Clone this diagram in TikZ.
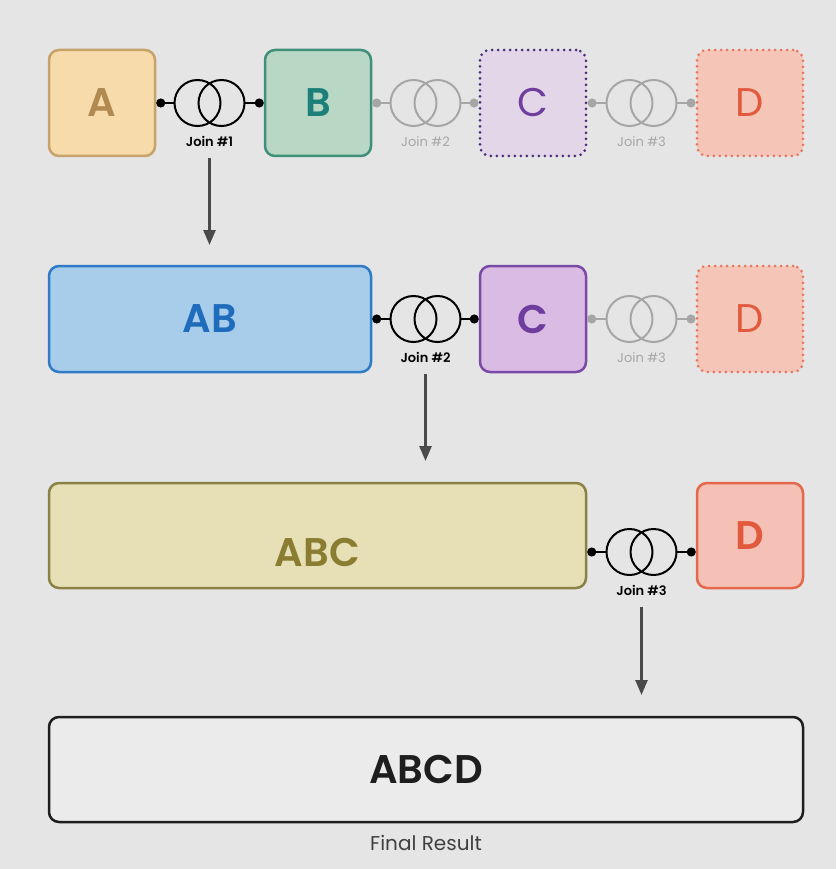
\documentclass[tikz,border=0pt]{standalone}
\usepackage{fontspec}
\setmainfont{Poppins}[BoldFont={Poppins SemiBold}]
\usetikzlibrary{positioning,arrows.meta}
\definecolor{bg}{HTML}{E5E5E5}
\definecolor{afill}{HTML}{F7DBAA}\definecolor{aline}{HTML}{C7A26A}\definecolor{atext}{HTML}{B08A50}
\definecolor{bfill}{HTML}{B8D8C5}\definecolor{bline}{HTML}{3F8F7A}\definecolor{btext}{HTML}{1C7F7A}
\definecolor{cfill}{HTML}{DABBE4}\definecolor{cline}{HTML}{7A4AA6}\definecolor{ctext}{HTML}{6E3D9E}
\definecolor{cghost}{HTML}{E3D6E8}\definecolor{cdots}{HTML}{4B2E78}
\definecolor{dfill}{HTML}{F5C1B6}\definecolor{dline}{HTML}{E5674B}\definecolor{dtext}{HTML}{E25A3D}
\definecolor{dghost}{HTML}{F5C6B8}\definecolor{ddots}{HTML}{E8765E}
\definecolor{abfill}{HTML}{A8CDEA}\definecolor{abline}{HTML}{2F7BC6}\definecolor{abtext}{HTML}{1F6CBC}
\definecolor{abcfill}{HTML}{E7E0B7}\definecolor{abcline}{HTML}{8A8244}\definecolor{abctext}{HTML}{8A7C30}
\definecolor{finalfill}{HTML}{EBEBEB}\definecolor{ink}{HTML}{1E1E1E}
\definecolor{faded}{HTML}{A6A6A6}\definecolor{arrowgray}{HTML}{4A4A4A}
\tikzset{
  box/.style={rounded corners=10pt, line width=2.5pt, minimum width=106pt, minimum height=106pt,
    inner sep=0pt, font=\fontsize{40}{48}\selectfont\bfseries},
  ghost/.style={box, line width=3pt, line cap=round, dash pattern=on 0pt off 6pt,
    font=\fontsize{40}{48}\selectfont},
  joinspot/.style={minimum width=70pt, minimum height=46pt, inner sep=0pt},
  link/.style={line width=2pt, -{Circle[length=9pt]}},
  joinlabel/.style={inner sep=0pt, font=\fontsize{13}{15}\selectfont\bfseries},
  flow/.style={line width=2.5pt, arrowgray, -{Triangle[width=12pt,length=15pt]}}
}
\newcommand{\joinring}[3]{%
  \node[joinspot] (#1) at (#2) {};
  \draw[#3, line width=2pt] ([xshift=-12pt]#1.center) circle[radius=23pt]
    ([xshift=12pt]#1.center) circle[radius=23pt];
}
\begin{document}
\begin{tikzpicture}[x=1pt,y=-1pt]
  \fill[bg] (0,0) rectangle (836,869);
  \useasboundingbox (0,0) rectangle (836,869);
  % first row
  \node[box, fill=afill, draw=aline, text=atext] (A) at (102,103) {A};
  \node[box, fill=bfill, draw=bline, text=btext] (B) at (318,103) {B};
  \node[ghost, fill=cghost, draw=cdots, text=ctext] (C0) at (533,103) {C};
  \node[ghost, fill=dghost, draw=ddots, text=dtext] (D0) at (750,103) {D};
  \joinring{j1}{209.5,103}{black}
  \draw[link] (j1.west) -- (A.east);
  \draw[link] (j1.east) -- (B.west);
  \node[joinlabel, below=10pt of j1] (j1l) {Join \#1};
  \joinring{j2a}{425.5,103}{faded}
  \draw[link, faded] (j2a.west) -- (B.east);
  \draw[link, faded] (j2a.east) -- (C0.west);
  \node[joinlabel, faded, font=\fontsize{13}{15}\selectfont, below=10pt of j2a] (j2al) {Join \#2};
  \joinring{j3a}{641.5,103}{faded}
  \draw[link, faded] (j3a.west) -- (C0.east);
  \draw[link, faded] (j3a.east) -- (D0.west);
  \node[joinlabel, faded, font=\fontsize{13}{15}\selectfont, below=10pt of j3a] (j3al) {Join \#3};
  \coordinate (a1) at (209.5,245);
  \draw[flow, shorten <=11pt] (j1l) -- (a1);
  % second row
  \node[box, minimum width=322pt, fill=abfill, draw=abline, text=abtext] (AB) at (210,319) {AB};
  \node[box, fill=cfill, draw=cline, text=ctext] (C1) at (533,319) {C};
  \node[ghost, fill=dghost, draw=ddots, text=dtext] (D1) at (750,319) {D};
  \joinring{j2}{425.5,319}{black}
  \draw[link] (j2.west) -- (AB.east);
  \draw[link] (j2.east) -- (C1.west);
  \node[joinlabel, below=10pt of j2] (j2l) {Join \#2};
  \joinring{j3b}{641.5,319}{faded}
  \draw[link, faded] (j3b.west) -- (C1.east);
  \draw[link, faded] (j3b.east) -- (D1.west);
  \node[joinlabel, faded, font=\fontsize{13}{15}\selectfont, below=10pt of j3b] (j3bl) {Join \#3};
  \coordinate (a2) at (425.5,461);
  \draw[flow, shorten <=11pt] (j2l) -- (a2);
  % third row
  \node[box, minimum width=537pt, minimum height=105pt, fill=abcfill, draw=abcline] (ABC) at (317.5,535.5) {};
  \node[font=\fontsize{40}{48}\selectfont\bfseries, text=abctext, inner sep=0pt] (ABCt) at (317.5,552) {ABC};
  \node[box, minimum height=105pt, fill=dfill, draw=dline, text=dtext] (D2) at (750,535.5) {D};
  \joinring{j3}{641.5,552}{black}
  \draw[link] (j3.west) -- (j3.west -| ABC.east);
  \draw[link] (j3.east) -- (j3.east -| D2.west);
  \node[joinlabel, below=10pt of j3] (j3l) {Join \#3};
  \coordinate (a3) at (641.5,695);
  \draw[flow, shorten <=11pt] (j3l) -- (a3);
  % result
  \node[box, minimum width=754pt, minimum height=105pt, fill=finalfill, draw=ink, text=ink] (ABCD) at (426,769.5) {ABCD};
  \node[inner sep=0pt, text=ink!85, font=\fontsize{20}{24}\selectfont, below=12pt of ABCD] (final) {Final Result};
\end{tikzpicture}
\end{document}
